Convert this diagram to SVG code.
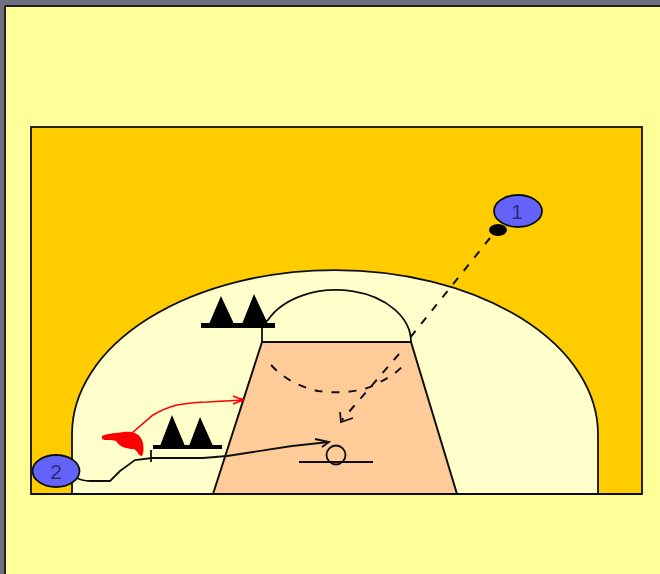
<svg xmlns="http://www.w3.org/2000/svg" width="660" height="574" viewBox="0 0 660 574">
<defs><filter id="soft" filterUnits="userSpaceOnUse" x="0" y="0" width="660" height="574"><feGaussianBlur stdDeviation="0.45"/></filter></defs>
<style>
.o{stroke:#111;stroke-width:1.8;fill:none}
.d{stroke:#111;stroke-width:2;fill:none;stroke-dasharray:8 9}
.t{font-family:"Liberation Sans",Arial,sans-serif;font-size:21px;fill:#2a2a70;text-anchor:middle}
.p{fill:#6464fa;stroke:#111;stroke-width:1.8}
.r{fill:none;stroke:#f00;stroke-width:1.6}
</style>
<rect width="660" height="574" fill="#6e7080"/>
<rect x="5" y="6" width="655" height="568" fill="#ffff99"/>
<path d="M5 6H660M5 6V574" stroke="#222" stroke-width="2" fill="none"/>
<g filter="url(#soft)">
<g id="court">
<rect x="31" y="127" width="611" height="367" fill="#ffcc00" stroke="#111" stroke-width="1.8"/>
<path d="M72 494V434A263 164 0 0 1 598 434V494Z" fill="#ffffcc" stroke="#111" stroke-width="1.8"/>
<path d="M262 342H411L457 494H213Z" fill="#ffcc99" stroke="#111" stroke-width="2"/>
<path class="o" d="M262 342V325L268 320A75 52 0 0 1 411 342"/>
<path class="o" d="M31 494H642"/>
<path class="o" d="M299 462H373"/>
<circle class="o" cx="336" cy="455" r="9.5"/>
</g>
<g id="cones-top">
<path d="M201 323H275V328H201Z" fill="#000"/>
<path d="M209 324L221 296L234 324ZM242 324L254 294L268 324Z" fill="#000"/>
</g>
<g id="cones-bottom">
<path d="M153 445H222V449H153Z" fill="#000"/>
<path d="M160 446L172 415L185 446ZM189 446L200 417L213 446Z" fill="#000"/>
</g>
<g id="connectors">
<path class="d" d="M490 238L409 339"/>
<path class="d" d="M271 365C285 380 303 388 318 391C340 394 365 392 380 382C392 376 400 370 406 362"/>
<path class="d" d="M399 354L342 420"/>
<path class="o" d="M340 412L341 422L353 418"/>
<path class="o" d="M75 477C80 480 85 481 90 481H110L120 471L135 460L152 458H203L227 456L292 446L329 442"/>
<path class="o" d="M151 450V462"/>
<path class="o" d="M315 439L329 442L322 447"/>
<path class="r" d="M132 433L153 415Q165 408 177 405Q195 402 207 402L243 400"/>
<path class="r" d="M233 396L243 400L233 404"/>
<circle cx="241" cy="400" r="2.2" fill="#f00"/>
<path d="M102 436C108 433 118 433 124 432C132 431 139 433 142 440C144 445 144 452 142 456C138 456 138 451 134 449C126 449 120 447 116 441C111 439 105 441 102 439Z" fill="#f00"/>
</g>
<g id="player-1">
<ellipse class="p" cx="518" cy="211" rx="24" ry="16"/>
<text class="t" x="517" y="219">1</text>
<ellipse cx="498" cy="230" rx="9" ry="6" fill="#000"/>
</g>
<g id="player-2">
<ellipse class="p" cx="56" cy="471" rx="23.5" ry="16"/>
<text class="t" x="56" y="479">2</text>
</g>
</g>
</svg>
